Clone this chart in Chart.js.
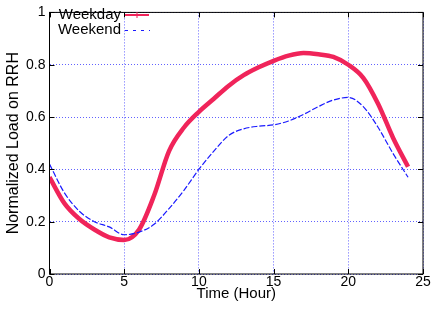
<!DOCTYPE html>
<html>
<head>
<meta charset="utf-8">
<script src="https://cdn.jsdelivr.net/npm/chart.js@4"></script>
<style>
  html, body { margin: 0; padding: 0; background: #fff; }
  #wrap { width: 432px; height: 310px; }
</style>
</head>
<body>
<div id="wrap"><canvas id="loadChart"></canvas></div>
<script>
const hours = [0, 1, 2, 3, 4, 5, 6, 7, 8, 9, 10, 11, 12, 13, 14, 15, 16, 17, 18, 19, 20, 21, 22, 23, 24];
const weekday = [0.37, 0.27, 0.21, 0.17, 0.14, 0.13, 0.17, 0.30, 0.47, 0.56, 0.62, 0.67, 0.72, 0.76, 0.79, 0.815, 0.835, 0.845, 0.84, 0.83, 0.80, 0.75, 0.65, 0.52, 0.41];
const weekend = [0.42, 0.31, 0.24, 0.20, 0.18, 0.15, 0.16, 0.19, 0.25, 0.32, 0.40, 0.47, 0.53, 0.555, 0.565, 0.57, 0.585, 0.61, 0.64, 0.665, 0.675, 0.64, 0.56, 0.46, 0.37];
const xTicks = [0, 5, 10, 15, 20, 25];
const yTicks = [0, 0.2, 0.4, 0.6, 0.8, 1];

const FONT = 'Liberation Sans, Arial, sans-serif';
const RED = '#f0245a';
const BLUE = '#1a1aff';
const GRID = 'rgba(70,70,255,0.85)';

const toPoints = (vals) => vals.map((v, i) => ({ x: hours[i], y: v }));

// gnuplot-ish frame: black box, inward ticks, legend in top left
const framePlugin = {
  id: 'frame',
  afterDraw(chart) {
    const { ctx, chartArea: a, scales } = chart;
    ctx.save();
    ctx.strokeStyle = '#000';
    ctx.lineWidth = 1;
    ctx.strokeRect(a.left, a.top, a.right - a.left, a.bottom - a.top);
    ctx.beginPath();
    xTicks.forEach(t => {
      const px = Math.round(scales.x.getPixelForValue(t)) + 0.5;
      ctx.moveTo(px, a.bottom); ctx.lineTo(px, a.bottom - 5);
      ctx.moveTo(px, a.top); ctx.lineTo(px, a.top + 5);
    });
    yTicks.forEach(t => {
      const py = Math.round(scales.y.getPixelForValue(t)) + 0.5;
      ctx.moveTo(a.left, py); ctx.lineTo(a.left + 5, py);
      ctx.moveTo(a.right, py); ctx.lineTo(a.right - 5, py);
    });
    ctx.stroke();

    // legend
    ctx.font = '15px ' + FONT;
    ctx.fillStyle = '#000';
    ctx.textAlign = 'right';
    ctx.textBaseline = 'middle';
    ctx.fillText('Weekday', 121, 15);
    ctx.fillText('Weekend', 121, 30);
    ctx.strokeStyle = RED;
    ctx.lineWidth = 2;
    ctx.beginPath(); ctx.moveTo(125, 15); ctx.lineTo(149, 15); ctx.stroke();
    ctx.lineWidth = 1;
    ctx.beginPath(); ctx.moveTo(137, 12); ctx.lineTo(137, 18); ctx.moveTo(134, 15); ctx.lineTo(140, 15); ctx.stroke();
    ctx.strokeStyle = BLUE;
    ctx.lineWidth = 1.2;
    ctx.setLineDash([3, 5]);
    ctx.beginPath(); ctx.moveTo(125, 30.5); ctx.lineTo(150, 30.5); ctx.stroke();
    ctx.restore();
  }
};

const ctx = document.getElementById('loadChart').getContext('2d');

const loadChart = new Chart(ctx, {
  type: 'line',
  data: {
    datasets: [
      {
        label: 'Weekend',
        data: toPoints(weekend),
        borderColor: BLUE,
        borderWidth: 1.2,
        borderDash: [6, 2],
        pointRadius: 0,
        fill: false,
        cubicInterpolationMode: 'monotone'
      },
      {
        label: 'Weekday',
        data: toPoints(weekday),
        borderColor: RED,
        borderWidth: 4.5,
        pointRadius: 0,
        fill: false,
        cubicInterpolationMode: 'monotone'
      }
    ]
  },
  options: {
    responsive: true,
    maintainAspectRatio: false,
    animation: false,
    layout: { padding: { top: 8, right: 9, left: 0, bottom: 0 } },
    plugins: {
      legend: { display: false },
      tooltip: { enabled: false }
    },
    scales: {
      x: {
        type: 'linear',
        min: 0,
        max: 25,
        afterBuildTicks: (s) => { s.ticks = xTicks.map(v => ({ value: v })); },
        afterFit: (s) => { s.height = 36; },
        ticks: { color: '#000', font: { family: FONT, size: 14 }, padding: 0, maxRotation: 0 },
        grid: { color: GRID, lineWidth: 1, drawTicks: false, borderDash: [1, 2] },
        border: { display: true, color: 'rgba(0,0,0,0)', dash: [1, 2] },
        title: {
          display: true,
          text: 'Time (Hour)',
          color: '#000',
          font: { family: FONT, size: 15 },
          padding: { top: 0, bottom: 7 }
        }
      },
      y: {
        min: 0,
        max: 1,
        afterBuildTicks: (s) => { s.ticks = yTicks.map(v => ({ value: v })); },
        afterFit: (s) => { s.width = 49.5; },
        ticks: { color: '#000', font: { family: FONT, size: 14 }, padding: 4, callback: (v) => String(v) },
        grid: { color: GRID, lineWidth: 1, drawTicks: false, borderDash: [1, 2] },
        border: { display: true, color: 'rgba(0,0,0,0)', dash: [1, 2] },
        title: {
          display: true,
          text: 'Normalized Load on RRH',
          color: '#000',
          font: { family: FONT, size: 16 },
          padding: { top: 4, bottom: 0 }
        }
      }
    }
  },
  plugins: [framePlugin]
});
</script>
</body>
</html>
